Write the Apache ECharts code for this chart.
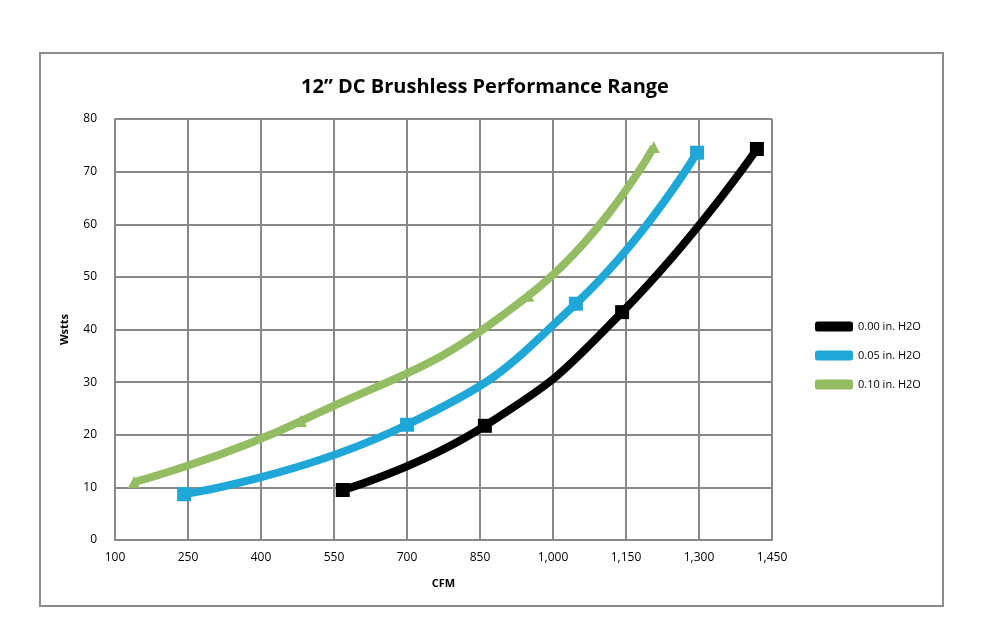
<!DOCTYPE html>
<html><head><meta charset="utf-8">
<script src="https://cdn.jsdelivr.net/npm/echarts@6/dist/echarts.min.js"></script>
<style>html,body{margin:0;padding:0;background:#fff}#c{width:996px;height:624px}</style>
</head><body><div id="c"></div>
<script>
const seriesNames = ['0.00 in. H2O', '0.05 in. H2O', '0.10 in. H2O'];
const black = [[568, 9.5], [860, 21.7], [1142, 43.3], [1419, 74.3]];
const blue = [[242, 8.7], [700, 21.9], [1047, 44.9], [1296, 73.6]];
const green = [[139, 11.0], [482, 22.6], [949, 46.4], [1207, 74.7]];
const colors = ['#000000', '#1ea7d7', '#93bc63'];
const chart = echarts.init(document.getElementById('c'));
const mk = (name, data, color, sym) => ({
  name, type: 'line', data, smooth: true, symbol: sym, symbolSize: sym === 'triangle' ? 12 : 14,
  lineStyle: { width: 8, color }, itemStyle: { color }
});
chart.setOption({
  animation: false,
  graphic: [{ type: 'rect', shape: { x: 40, y: 53, width: 903, height: 553 }, style: { fill: 'none', stroke: '#8c8c8c', lineWidth: 2 } }],
  title: { text: '12\u201d DC Brushless Performance Range', left: 480, top: 72, textAlign: 'center',
    textStyle: { fontFamily: 'Open Sans', fontSize: 20, fontWeight: 'bold', color: '#000' } },
  legend: { orient: 'vertical', left: 810, top: 316, itemWidth: 38, itemHeight: 10, itemGap: 18,
    icon: 'roundRect', data: seriesNames, textStyle: { fontFamily: 'Open Sans', fontSize: 11, color: '#000' } },
  grid: { left: 115, right: 224, top: 119, bottom: 84 },
  xAxis: { type: 'value', min: 100, max: 1450, interval: 150, name: 'CFM', nameLocation: 'middle', nameGap: 38,
    nameTextStyle: { fontFamily: 'Open Sans', fontWeight: 'bold', fontSize: 11, color: '#000' },
    axisLine: { lineStyle: { color: '#888', width: 2 } }, axisTick: { show: false },
    axisLabel: { fontFamily: 'Open Sans', fontSize: 12, color: '#000', margin: 12 },
    splitLine: { lineStyle: { color: '#888', width: 2 } } },
  yAxis: { type: 'value', min: 0, max: 80, interval: 10, name: 'Wstts', nameLocation: 'middle', nameGap: 45,
    nameTextStyle: { fontFamily: 'Open Sans', fontWeight: 'bold', fontSize: 11, color: '#000' },
    axisLine: { show: true, lineStyle: { color: '#888', width: 2 } }, axisTick: { show: false },
    axisLabel: { fontFamily: 'Open Sans', fontSize: 12, color: '#000', margin: 18 },
    splitLine: { lineStyle: { color: '#888', width: 2 } } },
  series: [mk(seriesNames[0], black, colors[0], 'rect'), mk(seriesNames[1], blue, colors[1], 'rect'), mk(seriesNames[2], green, colors[2], 'triangle')]
});
</script></body></html>
